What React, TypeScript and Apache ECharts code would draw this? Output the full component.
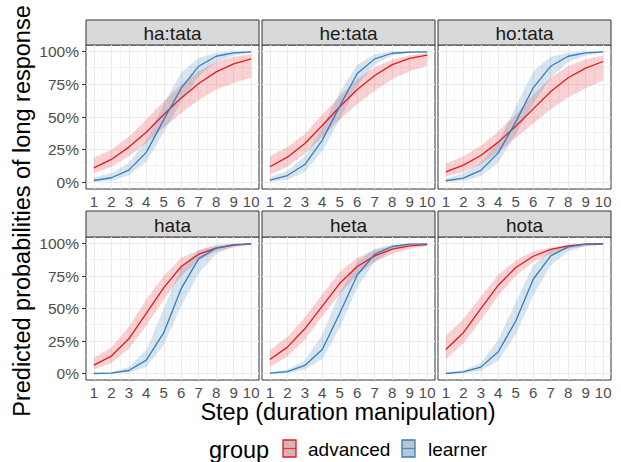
import React, { useEffect, useRef } from "react";
import * as echarts from "echarts";

// ---------- data ----------
const steps = [1, 2, 3, 4, 5, 6, 7, 8, 9, 10];
const panelNames = ["ha:tata", "he:tata", "ho:tata", "hata", "heta", "hota"];
const groupNames = ["advanced", "learner"];
const yTickValues = [0, 0.25, 0.5, 0.75, 1];
const yTickLabels = ["0%", "25%", "50%", "75%", "100%"];

// ha:tata
const hatataAdvFit = [0.112, 0.176, 0.27, 0.384, 0.519, 0.646, 0.756, 0.845, 0.906, 0.944];
const hatataAdvLo = [0.07, 0.12, 0.2, 0.3, 0.42, 0.53, 0.63, 0.71, 0.76, 0.8];
const hatataAdvHi = [0.19, 0.25, 0.35, 0.48, 0.62, 0.75, 0.85, 0.92, 0.96, 0.98];
const hatataLrnFit = [0.015, 0.036, 0.094, 0.23, 0.48, 0.72, 0.888, 0.964, 0.99, 0.997];
const hatataLrnLo = [0.003, 0.012, 0.055, 0.16, 0.38, 0.62, 0.81, 0.92, 0.97, 0.99];
const hatataLrnHi = [0.04, 0.07, 0.15, 0.32, 0.6, 0.84, 0.95, 0.99, 1.0, 1.0];
// he:tata
const hetataAdvFit = [0.12, 0.193, 0.298, 0.435, 0.578, 0.71, 0.817, 0.9, 0.947, 0.972];
const hetataAdvLo = [0.06, 0.12, 0.22, 0.35, 0.48, 0.6, 0.7, 0.79, 0.85, 0.89];
const hetataAdvHi = [0.2, 0.27, 0.37, 0.52, 0.66, 0.79, 0.88, 0.94, 0.97, 0.99];
const hetataLrnFit = [0.018, 0.053, 0.137, 0.323, 0.583, 0.832, 0.944, 0.987, 0.995, 0.998];
const hetataLrnLo = [0.004, 0.02, 0.08, 0.24, 0.48, 0.74, 0.9, 0.97, 0.99, 0.995];
const hetataLrnHi = [0.04, 0.09, 0.2, 0.42, 0.69, 0.9, 0.98, 1.0, 1.0, 1.0];
// ho:tata
const hotataAdvFit = [0.081, 0.132, 0.206, 0.308, 0.43, 0.562, 0.695, 0.8, 0.873, 0.924];
const hotataAdvLo = [0.045, 0.08, 0.14, 0.23, 0.34, 0.45, 0.56, 0.65, 0.72, 0.78];
const hotataAdvHi = [0.145, 0.2, 0.28, 0.39, 0.52, 0.67, 0.8, 0.89, 0.94, 0.97];
const hotataLrnFit = [0.013, 0.033, 0.092, 0.226, 0.463, 0.723, 0.888, 0.964, 0.99, 0.997];
const hotataLrnLo = [0.003, 0.01, 0.05, 0.15, 0.37, 0.6, 0.8, 0.92, 0.97, 0.99];
const hotataLrnHi = [0.03, 0.07, 0.15, 0.31, 0.58, 0.85, 0.96, 0.99, 1.0, 1.0];
// hata
const hataAdvFit = [0.064, 0.134, 0.267, 0.463, 0.66, 0.823, 0.918, 0.964, 0.987, 0.997];
const hataAdvLo = [0.03, 0.08, 0.19, 0.37, 0.57, 0.75, 0.87, 0.94, 0.97, 0.99];
const hataAdvHi = [0.12, 0.2, 0.36, 0.57, 0.75, 0.89, 0.95, 0.98, 0.995, 1.0];
const hataLrnFit = [0.0, 0.003, 0.023, 0.103, 0.314, 0.653, 0.884, 0.964, 0.992, 0.997];
const hataLrnLo = [0.0, 0.0, 0.008, 0.05, 0.22, 0.52, 0.77, 0.92, 0.98, 0.99];
const hataLrnHi = [0.005, 0.012, 0.05, 0.18, 0.5, 0.82, 0.95, 0.99, 1.0, 1.0];
// heta
const hetaAdvFit = [0.108, 0.203, 0.344, 0.519, 0.694, 0.823, 0.905, 0.956, 0.982, 0.992];
const hetaAdvLo = [0.05, 0.13, 0.26, 0.44, 0.61, 0.76, 0.86, 0.92, 0.96, 0.98];
const hetaAdvHi = [0.18, 0.28, 0.43, 0.61, 0.78, 0.89, 0.95, 0.98, 0.99, 1.0];
const hetaLrnFit = [0.003, 0.015, 0.062, 0.185, 0.463, 0.758, 0.918, 0.977, 0.995, 0.997];
const hetaLrnLo = [0.0, 0.004, 0.03, 0.11, 0.35, 0.66, 0.86, 0.95, 0.99, 0.99];
const hetaLrnHi = [0.01, 0.03, 0.1, 0.3, 0.62, 0.86, 0.96, 0.99, 1.0, 1.0];
// hota
const hotaAdvFit = [0.185, 0.314, 0.499, 0.679, 0.815, 0.902, 0.954, 0.982, 0.995, 0.998];
const hotaAdvLo = [0.11, 0.23, 0.41, 0.6, 0.75, 0.86, 0.92, 0.96, 0.98, 0.99];
const hotaAdvHi = [0.29, 0.42, 0.59, 0.76, 0.87, 0.94, 0.97, 0.99, 1.0, 1.0];
const hotaLrnFit = [0.0, 0.013, 0.049, 0.167, 0.404, 0.725, 0.905, 0.974, 0.995, 0.997];
const hotaLrnLo = [0.0, 0.003, 0.02, 0.1, 0.3, 0.6, 0.83, 0.94, 0.98, 0.99];
const hotaLrnHi = [0.005, 0.025, 0.08, 0.26, 0.55, 0.83, 0.95, 0.99, 1.0, 1.0];

const panelData = [
  { adv: [hatataAdvFit, hatataAdvLo, hatataAdvHi], lrn: [hatataLrnFit, hatataLrnLo, hatataLrnHi] },
  { adv: [hetataAdvFit, hetataAdvLo, hetataAdvHi], lrn: [hetataLrnFit, hetataLrnLo, hetataLrnHi] },
  { adv: [hotataAdvFit, hotataAdvLo, hotataAdvHi], lrn: [hotataLrnFit, hotataLrnLo, hotataLrnHi] },
  { adv: [hataAdvFit, hataAdvLo, hataAdvHi], lrn: [hataLrnFit, hataLrnLo, hataLrnHi] },
  { adv: [hetaAdvFit, hetaAdvLo, hetaAdvHi], lrn: [hetaLrnFit, hetaLrnLo, hetaLrnHi] },
  { adv: [hotaAdvFit, hotaAdvLo, hotaAdvHi], lrn: [hotaLrnFit, hotaLrnLo, hotaLrnHi] },
];

// ---------- styling / layout ----------
const FONT = "'Liberation Sans', Arial, Helvetica, sans-serif";
const RED = "#E41A1C";
const BLUE = "#377EB8";
const RED_FILL = "rgba(228,26,28,0.2)";
const BLUE_FILL = "rgba(55,126,184,0.2)";
const GRID_COL = "#EBEBEB";
const colLefts = [86, 262, 438];
const panelW = 173;
const rowStripTops = [20, 211];
const rowTops = [45, 237];
const rowHeights = [144, 143];

const yMajor = [0, 0.25, 0.5, 0.75, 1];
const yMinor = [0.125, 0.375, 0.625, 0.875];
const xMinor = [1.5, 2.5, 3.5, 4.5, 5.5, 6.5, 7.5, 8.5, 9.5];

export default function App() {
  const ref = useRef<HTMLDivElement>(null);
  useEffect(() => {
    if (!ref.current) return;
    const chart = echarts.init(ref.current, undefined, { renderer: "svg" });
    const grids: any[] = [];
    const xAxes: any[] = [];
    const yAxes: any[] = [];
    const series: any[] = [];
    const graphics: any[] = [];

    panelNames.forEach((name, gi) => {
      const row = Math.floor(gi / 3);
      const col = gi % 3;
      const left = colLefts[col];
      const top = rowTops[row];
      const h = rowHeights[row];
      grids.push({
        left,
        top,
        width: panelW,
        height: h,
        show: true,
        borderColor: "#333333",
        borderWidth: 1,
        backgroundColor: "transparent",
        containLabel: false,
      });
      xAxes.push({
        gridIndex: gi,
        type: "value",
        min: 0.55,
        max: 10.45,
        axisLine: { show: false },
        axisTick: { show: true, customValues: steps, length: 4, lineStyle: { color: "#333333" } },
        axisLabel: {
          show: true,
          customValues: steps,
          fontSize: 15,
          color: "#4D4D4D",
          fontFamily: FONT,
          margin: 5,
        },
        splitLine: { show: false },
      });
      yAxes.push({
        gridIndex: gi,
        type: "value",
        min: -0.05,
        max: 1.05,
        axisLine: { show: false },
        axisTick: { show: col === 0, customValues: yTickValues, length: 4, lineStyle: { color: "#333333" } },
        axisLabel: {
          show: col === 0,
          customValues: yTickValues,
          fontSize: 15.5,
          color: "#4D4D4D",
          fontFamily: FONT,
          margin: 7,
          formatter: (v: number) => {
            const i = yTickValues.findIndex((t) => Math.abs(t - v) < 1e-9);
            return i >= 0 ? yTickLabels[i] : "";
          },
        },
        splitLine: { show: false },
      });

      // grid lines via markLine (kept beneath the bands and lines)
      const mlData: any[] = [];
      yMinor.forEach((v) => mlData.push({ yAxis: v, lineStyle: { color: GRID_COL, width: 0.6, type: "solid" } }));
      xMinor.forEach((v) => mlData.push({ xAxis: v, lineStyle: { color: GRID_COL, width: 0.6, type: "solid" } }));
      yMajor.forEach((v) => mlData.push({ yAxis: v, lineStyle: { color: GRID_COL, width: 1.1, type: "solid" } }));
      steps.forEach((v) => mlData.push({ xAxis: v, lineStyle: { color: GRID_COL, width: 1.1, type: "solid" } }));
      series.push({
        type: "line",
        xAxisIndex: gi,
        yAxisIndex: gi,
        data: steps.map((s) => [s, 0.5]),
        showSymbol: false,
        symbol: "none",
        lineStyle: { opacity: 0, width: 0 },
        silent: true,
        z: 1,
        markLine: {
          z: 1,
          silent: true,
          symbol: ["none", "none"],
          label: { show: false },
          emphasis: { disabled: true },
          data: mlData,
        },
      });

      const d = panelData[gi];
      const bands: [number[][], string][] = [
        [d.adv, RED_FILL],
        [d.lrn, BLUE_FILL],
      ];
      bands.forEach(([arr, fill]) => {
        const lo = arr[1];
        const hi = arr[2];
        series.push({
          type: "custom",
          xAxisIndex: gi,
          yAxisIndex: gi,
          silent: true,
          z: 10,
          data: steps.map((s, i) => [s, lo[i], hi[i]]),
          encode: { x: 0, y: [1, 2] },
          renderItem: (params: any, api: any) => {
            if (params.dataIndex !== 0) return null;
            const upper = steps.map((s, i) => api.coord([s, hi[i]]));
            const lower = steps.map((s, i) => api.coord([s, lo[i]])).reverse();
            return {
              type: "polygon",
              shape: { points: upper.concat(lower) },
              style: { fill, stroke: "none" },
            };
          },
        });
      });
      const lines: [number[], string, string][] = [
        [d.adv[0], RED, groupNames[0]],
        [d.lrn[0], BLUE, groupNames[1]],
      ];
      lines.forEach(([fit, color, gname]) => {
        series.push({
          type: "line",
          name: gname,
          xAxisIndex: gi,
          yAxisIndex: gi,
          data: steps.map((s, i) => [s, fit[i]]),
          showSymbol: false,
          symbol: "none",
          silent: true,
          z: 20,
          lineStyle: { color, width: 1.3 },
          emphasis: { disabled: true },
        });
      });

      // strip
      graphics.push({
        type: "rect",
        shape: { x: left, y: rowStripTops[row], width: panelW, height: top - rowStripTops[row] },
        style: { fill: "#D9D9D9", stroke: "#333333", lineWidth: 1 },
        silent: true,
      });
      graphics.push({
        type: "text",
        x: left + panelW / 2,
        y: (rowStripTops[row] + top) / 2 + 1,
        style: {
          text: name,
          fontSize: 19,
          fontFamily: FONT,
          fill: "#1A1A1A",
          textAlign: "center",
          textVerticalAlign: "middle",
        },
        silent: true,
      });
    });

    // axis titles
    graphics.push({
      type: "text",
      x: 22,
      y: 211,
      rotation: Math.PI / 2,
      style: {
        text: "Predicted probabilities of long response",
        fontSize: 23.5,
        fontFamily: FONT,
        fill: "#000000",
        textAlign: "center",
        textVerticalAlign: "middle",
      },
      silent: true,
    });
    graphics.push({
      type: "text",
      x: 348,
      y: 412,
      style: {
        text: "Step (duration manipulation)",
        fontSize: 23.5,
        fontFamily: FONT,
        fill: "#000000",
        textAlign: "center",
        textVerticalAlign: "middle",
      },
      silent: true,
    });

    // legend
    graphics.push({
      type: "text",
      x: 209,
      y: 450,
      style: { text: "group", fontSize: 23.5, fontFamily: FONT, fill: "#000", textAlign: "left", textVerticalAlign: "middle" },
      silent: true,
    });
    const keys: [number, string, string, string, number][] = [
      [283, RED, RED_FILL, groupNames[0], 308],
      [402, BLUE, BLUE_FILL, groupNames[1], 428],
    ];
    keys.forEach(([kx, col, fill, label, tx]) => {
      graphics.push({
        type: "rect",
        shape: { x: kx, y: 440, width: 13, height: 17 },
        style: { fill: "#D9D9D9", stroke: col, lineWidth: 1.3 },
        silent: true,
      });
      graphics.push({
        type: "rect",
        shape: { x: kx, y: 440, width: 13, height: 17 },
        style: { fill, stroke: "none" },
        silent: true,
      });
      graphics.push({
        type: "line",
        shape: { x1: kx, y1: 448.5, x2: kx + 13, y2: 448.5 },
        style: { stroke: col, lineWidth: 1.2, opacity: 0.8 },
        silent: true,
      });
      graphics.push({
        type: "text",
        x: tx,
        y: 449,
        style: { text: label, fontSize: 19, fontFamily: FONT, fill: "#000", textAlign: "left", textVerticalAlign: "middle" },
        silent: true,
      });
    });

    chart.setOption({
      animation: false,
      backgroundColor: "#FFFFFF",
      grid: grids,
      xAxis: xAxes,
      yAxis: yAxes,
      series,
      graphic: graphics,
    });
    return () => chart.dispose();
  }, []);
  return <div ref={ref} style={{ position: "fixed", left: 0, top: 0, width: 621, height: 462 }} />;
}
